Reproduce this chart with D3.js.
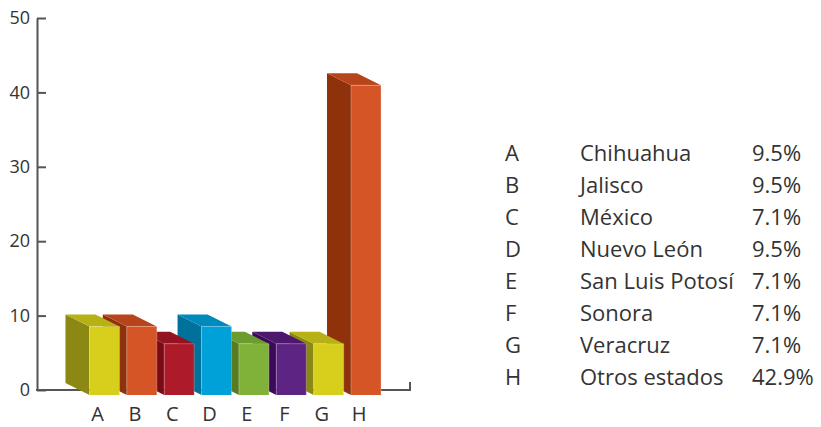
<!DOCTYPE html>
<html>
<head>
<meta charset="utf-8">
<script src="https://cdn.jsdelivr.net/npm/d3@7"></script>
<style>
  html, body { margin: 0; padding: 0; background: #ffffff; }
  svg { display: block; }
  text { font-family: "Open Sans", "DejaVu Sans", sans-serif; fill: #333333; }
</style>
</head>
<body>
<svg id="chart" width="821" height="427"></svg>
<script>
// ---- data ----
const categories = ["A", "B", "C", "D", "E", "F", "G", "H"];
const names = ["Chihuahua", "Jalisco", "México", "Nuevo León", "San Luis Potosí", "Sonora", "Veracruz", "Otros estados"];
const values = [9.5, 9.5, 7.1, 9.5, 7.1, 7.1, 7.1, 42.9];
const yTicks = [0, 10, 20, 30, 40, 50];
const frontColors = ["#d7cf1b", "#d55527", "#ad1a29", "#00a0d8", "#80b23a", "#5d2483", "#d7cf1b", "#d55527"];
const sideColors  = ["#8b8813", "#8f320b", "#7a0a15", "#00719a", "#557d1f", "#3d0a5b", "#8b8813", "#8f320b"];
const topColors   = ["#b7b116", "#b8441c", "#931322", "#0089bb", "#6c9b2e", "#4e176e", "#b7b116", "#b8441c"];

const svg = d3.select("#chart");

// axis scale (mid-depth plane)
const y = d3.scaleLinear().domain([0, 50]).range([390, 18]);
// front plane scale (slightly smaller due to perspective)
const yFront = d3.scaleLinear().domain([0, 50]).range([395, 34]);
// band scale for front faces
const x = d3.scaleBand().domain(categories)
  .range([85.8, 384.7]).paddingInner(0.197).paddingOuter(0.0985);

const depthX = -24, depthY = -12;
const axisX = 37;

// ---- y axis ----
const yAxis = d3.axisLeft(y).tickValues(yTicks).tickSizeInner(-9).tickSizeOuter(0).tickPadding(7);
const gy = svg.append("g").attr("transform", `translate(${axisX},0)`).call(yAxis);
gy.select(".domain").attr("stroke", "#555").attr("stroke-width", 2);
gy.selectAll(".tick line").attr("stroke", "#555").attr("stroke-width", 2);
gy.selectAll(".tick text").attr("font-size", 18).attr("fill", "#333")
  .style("font-family", '"Open Sans", sans-serif');

// ---- bottom baseline ----
const xEnd = 410;
svg.append("path")
  .attr("d", `M${axisX - 1},${y(0)} H${xEnd} V${y(0) - 8}`)
  .attr("fill", "none").attr("stroke", "#555").attr("stroke-width", 2);

// ---- bars (drawn right to left so the left bars sit in front) ----
const data = categories.map((c, i) => ({ c, v: values[i], i }));
const bars = svg.append("g");
data.slice().reverse().forEach(d => {
  const x0 = x(d.c), x1 = x0 + x.bandwidth();
  const yb = yFront(0), yt = yFront(d.v);
  const g = bars.append("g");
  // side face (left)
  g.append("path")
    .attr("d", `M${x0},${yt} L${x0 + depthX},${yt + depthY} L${x0 + depthX},${yb + depthY} L${x0},${yb} Z`)
    .attr("fill", sideColors[d.i]);
  // top face
  g.append("path")
    .attr("d", `M${x0},${yt} L${x0 + depthX},${yt + depthY} L${x1 + depthX},${yt + depthY} L${x1},${yt} Z`)
    .attr("fill", topColors[d.i]);
  // front face
  g.append("rect")
    .attr("x", x0).attr("y", yt).attr("width", x.bandwidth()).attr("height", yb - yt)
    .attr("fill", frontColors[d.i]);
  // subtle highlight edges
  g.append("path")
    .attr("d", `M${x0},${yb} V${yt} H${x1} V${yb}`)
    .attr("fill", "none").attr("stroke", "#ffffff").attr("stroke-opacity", 0.25).attr("stroke-width", 1);
});

// ---- category labels ----
svg.append("g").selectAll("text").data(categories).join("text")
  .attr("x", c => x(c) + x.bandwidth() / 2 - 7)
  .attr("y", 421)
  .attr("text-anchor", "middle")
  .attr("font-size", 20)
  .text(c => c);

// ---- legend ----
const fmt = d3.format(".1f");
const legend = svg.append("g");
const rows = legend.selectAll("g").data(data).join("g")
  .attr("transform", d => `translate(0,${161 + 32 * d.i})`);
rows.append("text").attr("x", 505).attr("font-size", 22).text(d => d.c);
rows.append("text").attr("x", 580).attr("font-size", 22).text(d => names[d.i]);
rows.append("text").attr("x", 752).attr("font-size", 22).text(d => fmt(d.v) + "%");
</script>
</body>
</html>
